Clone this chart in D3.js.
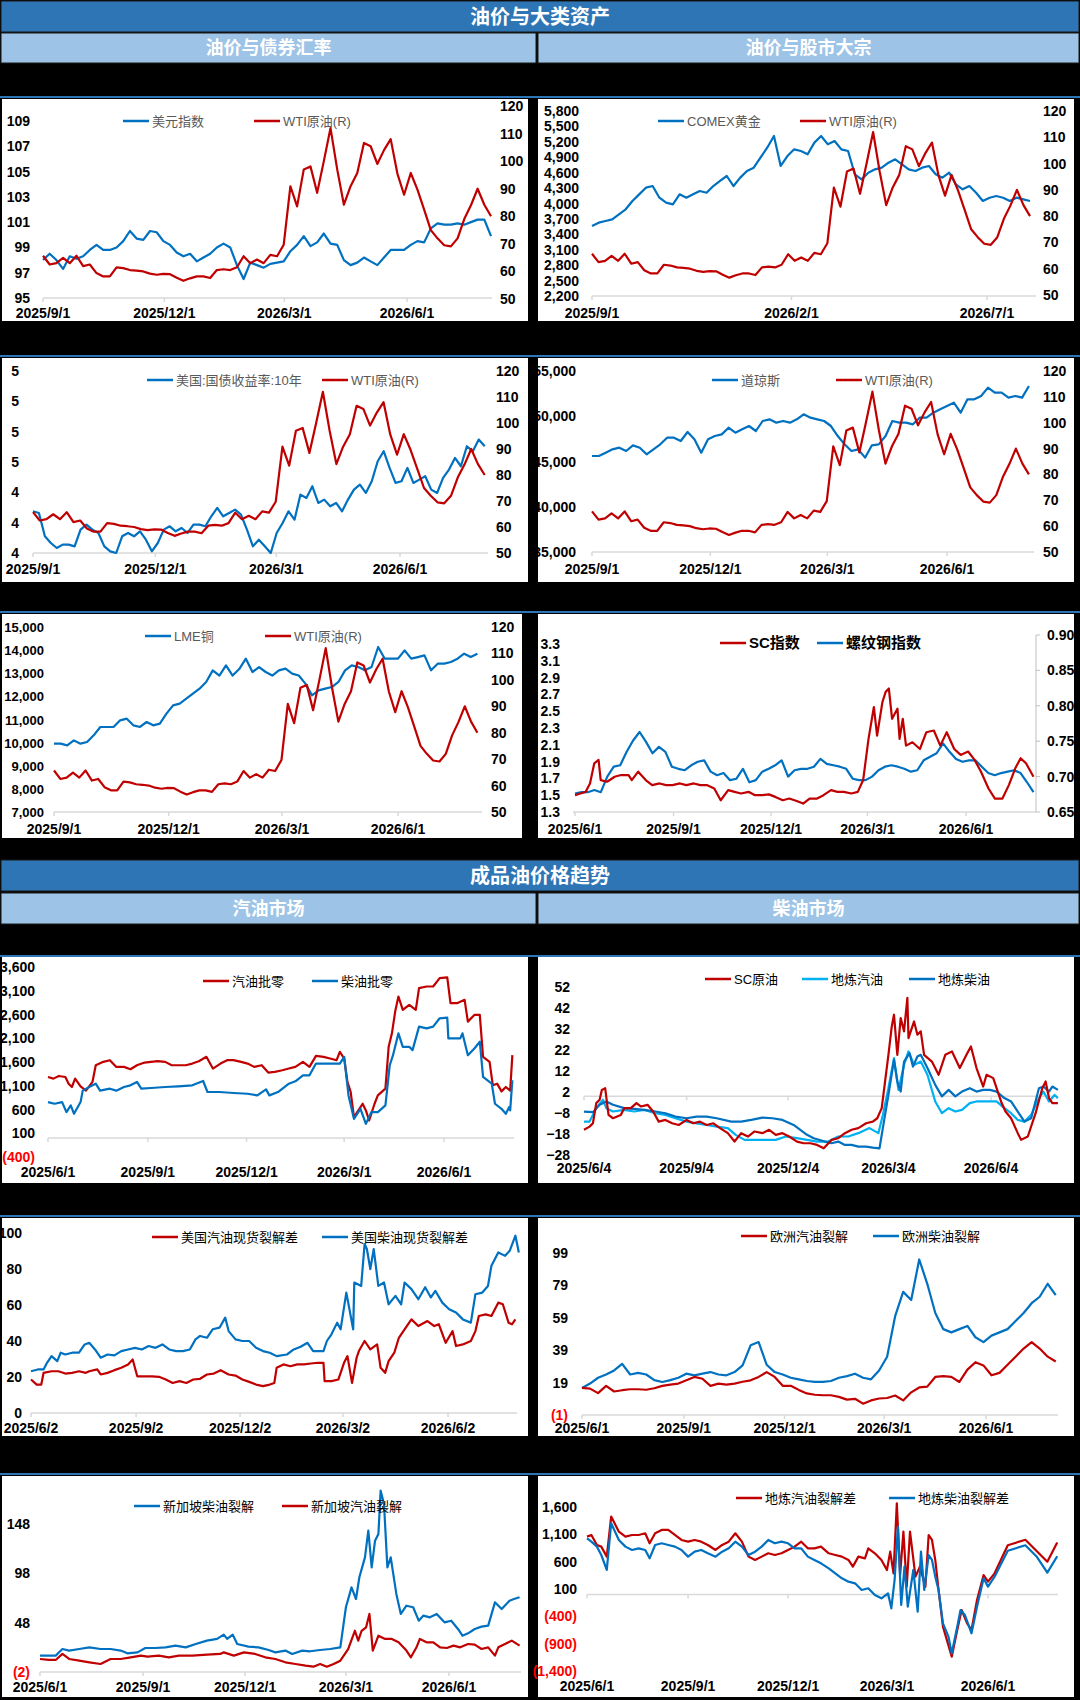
<!DOCTYPE html>
<html><head><meta charset="utf-8">
<script src="https://cdn.jsdelivr.net/npm/d3@7"></script>
<style>body{margin:0;background:#000}svg{display:block}text{font-family:"Liberation Sans Narrow","Liberation Sans","Noto Sans CJK SC",sans-serif}</style>
</head><body>
<script>
// ===================== data =====================
const wti = [65.7,62.5,63,64.9,63,65.7,61.9,62.5,59.4,58.2,58.2,61.5,61.2,60.5,60.3,60,59.2,58.8,59.1,59,57.7,56.6,57.5,58.2,58.2,57.6,60.5,60.8,60.5,61.5,65.5,63,64.3,63,66,65.5,69.7,90.9,83.6,97,98.1,88.5,100,112,97,84.2,90.9,95.7,106.6,105.4,99,104,108,95.5,87.8,95.7,89.7,82.4,75,72,69.5,69.1,72,79,84,90,84.2,80];
const usd = [98.0,98.5,98.0,97.3,98.3,98.1,98.3,98.8,99.2,98.8,98.8,99.0,99.5,100.3,99.7,99.6,100.3,100.2,99.5,99.2,98.6,98.3,98.5,97.9,98.2,98.5,99.0,99.3,99.0,97.6,96.5,97.8,97.6,97.4,97.7,97.8,97.9,98.7,99.2,99.9,99.1,99.4,100.1,99.3,99.2,98.0,97.6,97.8,98.2,97.9,97.6,98.2,98.8,98.8,98.8,99.2,99.5,99.4,100.5,100.9,100.8,100.8,100.9,100.8,101.0,101.2,101.2,99.9];
const gold = [3562,3627,3660,3692,3789,3887,4049,4178,4308,4340,4113,4016,3984,4178,4113,4178,4243,4210,4340,4438,4535,4340,4503,4632,4697,4892,5086,5313,4730,4924,5054,5021,4957,5184,5313,5151,5216,5054,5021,4568,4470,4600,4665,4697,4795,4859,4762,4665,4632,4697,4730,4568,4503,4600,4373,4276,4340,4210,4049,4113,4146,4113,4049,4113,4081,4049];
const ust10 = [4.175,4.164,4.01,3.966,3.933,3.955,3.955,3.944,4.054,4.087,4.054,4.032,3.944,3.911,3.9,4.01,4.032,4.01,4.043,3.988,3.911,3.966,4.054,4.076,4.043,4.065,4.032,4.087,4.087,4.076,4.142,4.197,4.142,4.164,4.186,4.153,4.054,3.944,3.988,3.944,3.9,4.032,4.098,4.175,4.12,4.285,4.263,4.34,4.23,4.252,4.208,4.23,4.175,4.252,4.318,4.351,4.296,4.373,4.505,4.571,4.461,4.362,4.373,4.461,4.362,4.384,4.406,4.318,4.296,4.395,4.45,4.527,4.472,4.604,4.571,4.648,4.604];
const dow = [45608,45608,45976,46344,46528,46160,46786,46528,45792,46344,46897,47633,47633,47265,48260,47449,45976,47449,47817,48001,48738,48186,48554,48922,48370,49475,49659,49291,49475,49291,49659,50212,49843,49659,49475,48922,47817,46897,46160,46344,45424,46786,46897,47817,49475,49291,49291,49107,49843,49843,50396,50764,51133,51501,50396,51869,51869,52238,53158,52606,52606,52054,52238,52054,53342];
const copper = [9954,9954,9882,10098,9954,10026,10315,10676,10676,10676,10964,11036,10748,10676,10892,10748,10820,11252,11613,11685,11901,12117,12333,12622,13126,12900,13342,12900,13180,13630,13054,13270,13054,12900,13126,13198,12982,12900,12550,12045,12261,12333,12405,12622,13126,13342,13270,13126,13270,14135,13630,13630,13630,13990,13630,13700,13775,13126,13414,13414,13486,13630,13847,13700,13847];
const scIndex = [1.5,1.52,1.54,1.64,1.88,1.92,1.68,1.66,1.72,1.74,1.74,1.68,1.78,1.68,1.62,1.64,1.62,1.62,1.64,1.62,1.64,1.62,1.62,1.58,1.44,1.56,1.54,1.52,1.54,1.5,1.5,1.51,1.48,1.44,1.46,1.43,1.4,1.46,1.46,1.5,1.56,1.54,1.54,1.52,1.54,1.68,2.17,2.55,2.21,2.61,2.73,2.77,2.41,2.53,2.17,2.41,2.09,2.13,2.05,2.25,2.27,2.09,2.25,2.05,1.98,2.02,1.92,1.78,1.58,1.46,1.46,1.62,1.82,1.94,1.88,1.72];
const scIndexDays = [0,5,10,14,18,22,24,30,37,43,50,53,59,66,72,79,85,91,98,104,111,117,123,130,136,143,149,155,162,168,175,181,187,194,200,207,213,219,226,232,239,245,251,258,264,269,274,279,282,287,290,293,296,301,303,306,309,315,322,328,335,341,347,354,360,367,373,379,386,392,399,405,411,416,421,428];
const rebarIndex = [0.676,0.678,0.678,0.681,0.678,0.7,0.714,0.716,0.735,0.751,0.763,0.749,0.733,0.742,0.735,0.714,0.711,0.709,0.716,0.721,0.723,0.707,0.702,0.705,0.695,0.697,0.711,0.692,0.695,0.707,0.711,0.716,0.723,0.7,0.709,0.711,0.711,0.714,0.725,0.718,0.716,0.714,0.711,0.697,0.695,0.695,0.7,0.709,0.714,0.716,0.714,0.711,0.707,0.709,0.723,0.728,0.733,0.747,0.735,0.725,0.721,0.723,0.723,0.714,0.705,0.702,0.705,0.707,0.709,0.705,0.692,0.678];
const gasWholesale = [1285,1250,1306,1285,1144,1074,1250,1088,997,1180,1532,1603,1638,1497,1497,1448,1532,1588,1603,1617,1603,1532,1532,1532,1567,1617,1709,1462,1567,1638,1638,1603,1567,1497,1532,1377,1391,1426,1462,1497,1603,1497,1730,1709,1674,1638,1815,1674,1180,968,439,615,721,580,368,721,897,1038,1920,2203,2661,2979,2697,2803,2697,3155,3190,3190,3367,3381,2838,2838,2909,2450,2591,2591,1709,1603,1109,1144,982,1074,997,1744];
const gasWholesaleDays = [0,5,10,16,19,22,25,30,35,41,44,51,57,63,70,76,82,89,95,101,108,114,120,127,133,139,146,152,159,165,171,178,184,190,197,203,209,216,222,228,235,241,247,254,260,266,269,273,276,279,282,287,290,293,296,301,304,311,314,317,320,323,327,333,339,342,349,355,361,368,371,377,384,387,393,398,401,407,410,414,418,422,426,428];
const dieselWholesale = [756,721,756,545,686,509,756,997,1109,1144,997,1038,997,1074,1109,1180,1038,1053,1074,1088,1109,1200,968,968,947,932,897,1024,897,968,1144,1194,1320,1320,1567,1567,1567,1709,897,403,615,298,545,545,686,1532,1744,2203,1920,1920,1850,2344,2309,2344,2520,2534,2097,2097,2203,1744,1885,2027,1285,1144,721,615,509,650,580,1215];
const dieselWholesaleDays = [0,6,13,17,21,24,30,32,41,44,48,57,63,70,76,82,86,95,108,120,133,143,147,158,171,184,193,201,204,212,222,228,235,241,247,260,269,273,277,282,288,293,298,304,311,315,318,323,327,333,336,342,349,355,361,368,369,380,382,387,393,398,401,409,412,418,422,425,426,428];
const scCrude = [-16,-14.5,-12.9,-3.3,-1.7,3,3.8,-8.9,-10.5,-8.9,-5.7,-5.7,-3.3,-4.9,-4.1,-7.3,-12.1,-11.3,-12.9,-13.7,-11.3,-12.9,-12.1,-13.7,-12.9,-15.2,-17.6,-21.6,-17.6,-19.2,-16.8,-17.6,-16,-18.4,-17.6,-19.2,-21.6,-22.4,-22.4,-23.2,-24.8,-20.8,-20,-17.6,-16,-15.2,-12.9,-12.1,-10.5,-5.7,7,19.7,33.2,38.8,19.7,37.2,30.9,46.8,27.7,35.6,29.3,30.9,19.7,16.5,10.2,19.7,21.3,13.4,19.7,23.7,13.4,4.6,10.2,8.6,-2.5,-7.3,-10.5,-17.6,-20.8,-19.2,-8.1,3.8,7,-0.9,-3.3,-3.3];
const scCrudeDays = [0,5,8,11,14,16,19,22,26,33,36,42,47,51,57,62,67,73,79,85,92,98,104,110,116,122,129,135,141,147,153,160,166,172,178,184,191,197,203,209,215,222,228,234,240,246,253,259,263,267,270,273,276,278,281,284,287,290,291,296,299,302,305,312,318,324,330,337,343,347,352,358,361,367,374,378,383,389,392,398,405,411,414,417,420,425];
const localGasoline = [-12.1,-12.1,-5.7,-1.7,-5.7,-7.3,-6.5,-7.3,-6.5,-8.1,-8.9,-10.5,-12.1,-12.9,-13.7,-14.5,-15.2,-18.4,-20.8,-20.8,-20.8,-20.8,-19.2,-20,-20.8,-21.6,-21.6,-19.2,-19.2,-17.6,-15.2,-17.6,-8.9,3.8,18.1,3,14.9,21.3,14.9,16.5,10.2,-2.5,-8.1,-5.7,-7.3,-6.5,-3.3,-2.5,-2.5,-2.5,-2.5,-5.7,-8.1,-11.3,-12.1,-8.9,-0.9,2.2,-2.5,0.6,-0.9];
const localGasolineDays = [0,5,11,17,20,26,36,45,54,64,73,82,92,101,110,119,129,136,144,153,163,172,181,191,200,209,219,228,237,246,256,264,268,273,278,282,287,291,296,302,308,315,321,327,333,339,346,352,358,364,370,377,383,389,395,401,408,412,417,422,425];
const localDiesel = [-7.3,-7.6,-4.1,-2.5,-4.1,-5.7,-6,-6.5,-7.3,-8.1,-9.7,-10.5,-9.7,-9.7,-10.5,-12.1,-12.1,-11.3,-10.2,-10.5,-11.3,-13.7,-16,-18.4,-20,-21.6,-22.4,-21.6,-23.2,-23.2,-24,-24,-24.5,-24.8,-15.2,0.6,17.3,7,2.2,16.5,20.5,14.1,18.9,19.7,13.4,5.4,-0.1,3,-0.1,2.2,3.8,2.2,3,3,2.2,-0.9,-2.5,-7.3,-12.1,-10.5,3.8,4.6,2.2,4.6,3];
const localDieselDays = [0,8,14,20,26,36,45,54,64,73,82,92,101,110,119,132,141,150,160,169,178,188,194,200,206,216,222,228,234,240,246,253,259,265,268,273,278,281,284,287,292,295,299,302,308,315,321,327,333,339,346,352,358,364,370,377,383,389,395,401,408,412,417,420,425];
const usGasCrack = [18.6,15.8,15.8,22.3,23.2,23.2,21.9,22.3,23.2,22.3,23.2,24.2,21.4,22.3,23.8,25.1,27,29.7,20.4,20.4,20.4,20.1,18.6,16.7,17.7,16.7,18.6,19,21.4,21.9,23.8,21.4,20.8,18.6,17.3,15.8,14.9,15.8,16.7,25.1,27,26,27,27,27.5,27.9,27.9,17.7,17.7,18.6,27.9,31.6,16.7,30.7,34.4,40,35.3,38.1,25.1,22.3,28.8,33.5,41.8,46.5,52,48.3,51.1,48.3,49.3,39,45.5,37.2,38.1,40,45.5,53.9,54.8,53.9,61.3,60.4,50.2,49.3,52];
const usGasCrackDays = [0,5,9,11,18,24,30,36,42,48,51,58,61,67,73,79,85,89,93,100,106,112,118,124,130,136,142,148,154,160,166,173,179,185,191,197,203,209,213,215,221,227,233,239,245,251,256,257,263,269,274,277,281,285,287,292,297,303,306,310,313,318,322,327,333,339,347,353,357,363,369,372,378,385,389,392,398,403,409,413,418,421,424];
const usDieselCrack = [23.2,24.2,24.2,27.9,31.6,28.8,33.5,32.5,33.5,33.5,38.1,39,35.3,30.7,32.5,32,34.4,35.3,36.2,35.3,37.2,36.2,38.1,35.3,34.4,34.4,35.3,40.9,42.8,41.8,46.5,47.4,53,45.5,40.9,40,40,36.2,34.4,33.5,31.6,32.5,35.3,36.8,39,34.4,34.4,40,43.7,50.2,46.5,66.9,46.5,72.5,70.6,93.9,91.1,79.9,91.1,70.6,72.5,60.4,65.1,60.4,72.5,68.8,63.2,69.9,64.2,67.8,61.3,57.6,55.8,52,50.2,66,66.9,70.6,81.8,89.2,87.3,90.1,98.5,89.2];
const usDieselCrackDays = [0,6,11,14,18,23,26,30,36,42,47,51,56,61,67,73,79,85,91,97,103,109,115,121,127,133,139,144,148,154,159,165,170,173,179,185,191,197,203,209,215,224,230,236,242,247,256,259,263,268,271,276,282,283,289,292,294,297,300,304,309,313,319,324,327,333,339,345,350,354,360,366,372,378,385,389,395,400,403,409,415,419,424,427];
const euGasCrack = [15.7,15.3,12.5,17,13.5,14.3,14.9,14.9,14.6,15.5,17,17.8,18.4,20.4,22.5,21.4,17,18.4,17.8,18.4,19.5,20.4,22.5,25.5,22.5,17,17,14.5,12.3,11.5,11.2,11.2,10.2,8.5,9,6,8,9.2,9.5,11,8,13,16,16.5,22.5,23,22.5,19.4,27,31.6,29.6,23.5,25,30,35,40,44,40,35,32];
const euDieselCrack = [15.7,18.4,22,24,26.5,30.6,24,25,24,20.5,19.4,20.5,22,24.5,23.5,24.5,25.5,24,23.5,25.5,29.6,42,44,30,25.5,24,22,21,20,19.4,19.4,20,22,23,24.5,22,21,26.5,35,60,75,70,95,80,62,52,50,52,54,47,44,48,50,52,57,62,68,72,80,73];
const sgDieselCrack = [14.6,14.6,14.6,21.3,19.7,21.3,23,21.3,21.3,19.7,16.9,17.9,22.3,22.3,23,24.7,23,26.4,29.8,31.5,35.9,31.5,35.9,26.4,23.7,23,20.3,17.9,19.7,16.3,19.7,19,20.3,21.3,23,63.6,83.8,72,94,114.2,141.2,104,131.1,137.9,181.8,168.3,104,114.2,77.1,56.8,65.2,63.6,50,55.1,53.4,56.8,48.3,50,41.6,34.8,37.2,41.6,44,45,68.6,61.8,70.3,72,73.7];
const sgDieselCrackDays = [0,8,14,20,26,35,44,54,63,72,78,87,94,103,112,121,130,139,149,158,164,167,172,176,186,195,204,210,219,225,234,241,250,259,268,273,278,282,285,290,293,296,299,302,304,307,310,313,318,322,327,333,338,342,348,354,361,367,373,377,382,388,394,400,406,412,419,423,428];
const sgGasCrack = [11.2,10.2,10.2,16.3,11.2,9.5,7.8,6.1,11.2,11.2,12.9,14.6,13.6,14.6,12.9,14.6,14.6,15.6,16.3,17.9,14.6,17.9,16.3,12.9,11.2,7.8,6.1,4.4,3.4,6.1,3.4,6.1,9.5,21.3,39.8,29.8,39.8,43.3,56.8,19.7,34.8,31.5,31.5,28.1,19.7,12.9,23,31.5,28.1,28.1,23,22.3,24.7,23,26.4,25.7,21.3,23,14.6,23,26.4,29.8,24.7];
const sgGasCrackDays = [0,8,14,20,26,35,44,54,63,72,81,90,96,106,115,124,136,149,161,164,173,182,192,201,210,219,228,237,244,250,256,262,268,275,281,284,287,291,294,297,302,308,314,320,327,331,336,339,345,351,357,363,369,375,382,388,394,400,406,409,415,421,428];
const localGasCrack = [1058,1088,905,875,692,1424,1149,1058,1088,1088,1119,936,1119,1180,1180,1088,997,966,997,966,905,814,905,966,1119,966,692,631,692,753,722,753,814,875,966,844,844,875,753,722,692,631,509,692,661,844,753,631,448,783,387,1668,356,1149,143,1149,326,509,143,1088,997,631,82,-589,-1138,-650,-284,-528,-650,-101,356,234,387,900,1000,800,600,950];
const localGasCrackDays = [0,4,9,13,18,22,29,35,41,47,53,57,62,68,74,80,86,92,98,104,110,117,123,129,135,141,147,153,159,165,171,177,183,189,195,201,207,213,220,226,232,238,242,247,253,256,262,268,273,276,279,282,285,288,291,294,299,303,308,311,314,317,320,324,332,337,341,346,350,355,361,365,371,383,399,409,419,428];
const localDieselCrack = [1027,966,875,722,448,1302,997,875,814,844,814,661,905,936,905,875,814,692,783,814,753,692,783,844,966,875,722,783,875,997,936,966,936,844,844,692,631,570,478,387,295,234,204,82,113,-10,-71,21,-254,265,1241,-193,509,-223,448,-315,783,82,722,631,326,82,-528,-772,-1077,-589,-284,-376,-711,-223,295,143,326,800,900,700,400,700];
const localDieselCrackDays = [0,4,9,13,18,22,29,35,41,47,53,57,62,68,74,80,86,92,98,104,110,117,123,129,135,141,147,153,159,165,171,177,183,189,195,201,207,213,220,226,232,238,244,250,256,262,268,274,277,280,283,286,289,292,297,301,304,307,311,314,317,320,324,329,332,337,340,344,350,355,361,365,371,383,399,409,419,428];

const xTicksSep = ['2025/9/1', '2025/12/1', '2026/3/1', '2026/6/1'];
const xTicksGold = ['2025/9/1', '2026/2/1', '2026/7/1'];
const xTicksJun1 = ['2025/6/1', '2025/9/1', '2025/12/1', '2026/3/1', '2026/6/1'];
const xTicksJun4 = ['2025/6/4', '2025/9/4', '2025/12/4', '2026/3/4', '2026/6/4'];
const xTicksJun2 = ['2025/6/2', '2025/9/2', '2025/12/2', '2026/3/2', '2026/6/2'];
const ust10TickLabels = ['4', '4', '4', '5', '5', '5', '5'];

// ===================== helpers =====================
const RED = '#C00000', BLUE = '#0070C0', LBLUE = '#00B0F0';
const DAY = 86400000;
const parseTick = d3.timeParse('%Y/%m/%d');
const parseDay = d3.timeParse('%Y-%m-%d');
const fmtComma = d3.format(',');
const fmtAcct = function (v) { return v < 0 ? '(' + fmtComma(-v) + ')' : fmtComma(v); };

const svg = d3.select('body').append('svg').attr('width', 1080).attr('height', 1700);
svg.append('rect').attr('width', 1080).attr('height', 1700).attr('fill', '#000');

function header(y, h, fill, text, x0, x1, size) {
  svg.append('rect').attr('x', x0).attr('y', y).attr('width', x1 - x0).attr('height', h)
    .attr('fill', fill).attr('stroke', '#1a1a1a').attr('stroke-width', 1);
  svg.append('text').attr('x', (x0 + x1) / 2).attr('y', y + h / 2 + size * 0.36)
    .attr('text-anchor', 'middle').attr('fill', '#fff').attr('font-size', size)
    .attr('font-weight', 'bold').style('font-family', '"Noto Sans CJK SC",sans-serif').text(text);
}

function ticksBetween(a, b, step) {
  const out = [];
  for (let v = a; v <= b + 1e-9; v += step) out.push(+v.toFixed(4));
  return out;
}

function drawChart(c) {
  const g = svg.append('g');
  g.append('rect').attr('x', c.panel[0]).attr('y', c.panel[1]).attr('width', c.panel[2]).attr('height', c.panel[3])
    .attr('fill', '#fff');

  const x = d3.scaleTime()
    .domain([parseTick(c.xTicks[0]), parseTick(c.xTicks[c.xTicks.length - 1])])
    .range(c.xTickPx);
  const yL = d3.scaleLinear().domain(c.left.domain).range(c.left.range);
  const yR = c.right ? d3.scaleLinear().domain(c.right.domain).range(c.right.range) : null;

  // base axis
  const axisY = yL(c.axisAt);
  g.append('line').attr('x1', c.axisX[0]).attr('x2', c.axisX[1]).attr('y1', axisY).attr('y2', axisY)
    .attr('stroke', '#d9d9d9').attr('stroke-width', 1.5);
  c.xTicks.forEach(function (t) {
    const px = x(parseTick(t));
    g.append('line').attr('x1', px).attr('x2', px).attr('y1', axisY).attr('y2', axisY + 4)
      .attr('stroke', '#d9d9d9').attr('stroke-width', 1.5);
    g.append('text').attr('x', px).attr('y', c.xLabelY).attr('text-anchor', 'middle')
      .attr('font-size', 14).attr('font-weight', 'bold').attr('fill', '#000').text(t);
  });

  // left ticks
  c.left.ticks.forEach(function (v, i) {
    const label = c.left.labels ? c.left.labels[i] : (c.left.fmt || fmtAcct)(v);
    g.append('text').attr('x', c.left.x).attr('y', yL(v) + 5).attr('text-anchor', 'end')
      .attr('font-size', c.left.size || 14).attr('font-weight', 'bold')
      .attr('fill', v < 0 && c.left.redNeg ? '#FF0000' : '#000').text(label);
  });
  if (c.right) {
    if (c.right.axisLine) {
      g.append('line').attr('x1', c.right.axisLine).attr('x2', c.right.axisLine)
        .attr('y1', c.right.range[0]).attr('y2', c.right.range[1]).attr('stroke', '#bfbfbf');
      c.right.ticks.forEach(function (v) {
        g.append('line').attr('x1', c.right.axisLine).attr('x2', c.right.axisLine + 4)
          .attr('y1', yR(v)).attr('y2', yR(v)).attr('stroke', '#bfbfbf');
      });
    }
    c.right.ticks.forEach(function (v) {
      g.append('text').attr('x', c.right.x).attr('y', yR(v) + 5)
        .attr('font-size', c.right.size || 14).attr('font-weight', 'bold').attr('fill', '#000')
        .text((c.right.fmt || fmtAcct)(v));
    });
  }

  // series: explicit day offsets when read unevenly, otherwise evenly spaced
  const d0 = parseDay(c.start), d1 = parseDay(c.end);
  c.series.forEach(function (s) {
    const y = s.axis === 'right' ? yR : yL;
    const n = s.values.length;
    const pts = s.values.map(function (v, i) {
      const t = s.days ? new Date(+d0 + s.days[i] * DAY) : new Date(+d0 + (d1 - d0) * i / (n - 1));
      return { t: t, v: v };
    });
    g.append('path').datum(pts)
      .attr('d', d3.line().x(function (d) { return x(d.t); }).y(function (d) { return y(d.v); }))
      .attr('fill', 'none').attr('stroke', s.color).attr('stroke-width', 2.2)
      .attr('stroke-linejoin', 'round');
  });

  // legend
  c.legend.forEach(function (l) {
    g.append('line').attr('x1', l.x).attr('x2', l.x + 26).attr('y1', c.legendY).attr('y2', c.legendY)
      .attr('stroke', l.color).attr('stroke-width', 2.5);
    g.append('text').attr('x', l.x + 29).attr('y', c.legendY + 5)
      .attr('font-size', c.legendSize || 13).attr('fill', c.legendColor || '#595959')
      .attr('font-weight', c.legendBold ? 'bold' : 'normal')
      .style('font-family', '"Liberation Sans","Noto Sans CJK SC",sans-serif').text(l.text);
  });
}

// ===================== headers =====================
header(1, 31, '#2E75B6', '油价与大类资产', 1, 1079, 20);
header(33, 30, '#9DC3E6', '油价与债券汇率', 1, 536, 18);
header(33, 30, '#9DC3E6', '油价与股市大宗', 538, 1079, 18);
header(860, 31, '#2E75B6', '成品油价格趋势', 1, 1079, 20);
header(893, 31, '#9DC3E6', '汽油市场', 1, 536, 18);
header(893, 31, '#9DC3E6', '柴油市场', 538, 1079, 18);
[96, 355, 611, 955, 1215, 1473].forEach(function (y) {
  svg.append('rect').attr('x', 0).attr('y', y).attr('width', 1080).attr('height', 2).attr('fill', '#2E75B6');
});

const S = '2025-09-01', J = '2025-06-01', E = '2026-08-03';
const wtiRight = function (range) { return { domain: [50, 120], range: range, ticks: ticksBetween(50, 120, 10) }; };

// row 1
drawChart({ panel: [2, 99, 526, 222], xTicks: xTicksSep, xTickPx: [43, 407], axisX: [43, 492], axisAt: 95, xLabelY: 318,
  start: S, end: E,
  left: { domain: [95, 109], range: [298, 121], ticks: ticksBetween(95, 109, 2), x: 30 },
  right: Object.assign(wtiRight([299, 106]), { x: 500 }),
  series: [{ values: usd, color: BLUE }, { values: wti, color: RED, axis: 'right' }],
  legendY: 121, legend: [{ x: 123, color: BLUE, text: '美元指数' }, { x: 254, color: RED, text: 'WTI原油(R)' }] });

drawChart({ panel: [538, 99, 536, 222], xTicks: xTicksGold, xTickPx: [592, 987], axisX: [592, 1036], axisAt: 2200, xLabelY: 318,
  start: S, end: E,
  left: { domain: [2200, 5800], range: [296, 111], ticks: ticksBetween(2200, 5800, 300), x: 579 },
  right: Object.assign(wtiRight([295, 111]), { x: 1043 }),
  series: [{ values: gold, color: BLUE }, { values: wti, color: RED, axis: 'right' }],
  legendY: 121, legend: [{ x: 658, color: BLUE, text: 'COMEX黄金' }, { x: 800, color: RED, text: 'WTI原油(R)' }] });

// row 2
drawChart({ panel: [2, 358, 526, 224], xTicks: xTicksSep, xTickPx: [33, 400], axisX: [33, 488], axisAt: 3.9, xLabelY: 574,
  start: S, end: E,
  left: { domain: [3.9, 5.1], range: [553, 371], ticks: ticksBetween(3.9, 5.1, 0.2), labels: ust10TickLabels, x: 19 },
  right: Object.assign(wtiRight([553, 371]), { x: 496 }),
  series: [{ values: ust10, color: BLUE }, { values: wti, color: RED, axis: 'right' }],
  legendY: 380, legend: [{ x: 147, color: BLUE, text: '美国:国债收益率:10年' }, { x: 322, color: RED, text: 'WTI原油(R)' }] });

drawChart({ panel: [538, 358, 536, 224], xTicks: xTicksSep, xTickPx: [592, 947], axisX: [592, 1034], axisAt: 35000, xLabelY: 574,
  start: S, end: E,
  left: { domain: [35000, 55000], range: [552, 371], ticks: ticksBetween(35000, 55000, 5000), x: 576 },
  right: Object.assign(wtiRight([552, 371]), { x: 1043 }),
  series: [{ values: dow, color: BLUE }, { values: wti, color: RED, axis: 'right' }],
  legendY: 380, legend: [{ x: 712, color: BLUE, text: '道琼斯' }, { x: 836, color: RED, text: 'WTI原油(R)' }] });

// row 3
drawChart({ panel: [2, 614, 520, 224], xTicks: xTicksSep, xTickPx: [54, 398], axisX: [54, 482], axisAt: 7000, xLabelY: 834,
  start: S, end: E,
  left: { domain: [7000, 15000], range: [812, 627], ticks: ticksBetween(7000, 15000, 1000), x: 44, size: 13 },
  right: Object.assign(wtiRight([812, 627]), { x: 491 }),
  series: [{ values: copper, color: BLUE }, { values: wti, color: RED, axis: 'right' }],
  legendY: 636, legend: [{ x: 145, color: BLUE, text: 'LME铜' }, { x: 265, color: RED, text: 'WTI原油(R)' }] });

drawChart({ panel: [538, 614, 536, 224], xTicks: xTicksJun1, xTickPx: [575, 966], axisX: [573, 1036], axisAt: 1.3, xLabelY: 834,
  start: J, end: E,
  left: { domain: [1.3, 3.3], range: [812, 644], ticks: ticksBetween(1.3, 3.3, 0.2), fmt: d3.format('.1f'), x: 560 },
  right: { domain: [0.65, 0.9], range: [812, 635], ticks: ticksBetween(0.65, 0.9, 0.05), fmt: d3.format('.2f'), x: 1047, axisLine: 1036 },
  series: [{ values: rebarIndex, color: BLUE, axis: 'right' }, { values: scIndex, days: scIndexDays, color: RED }],
  legendY: 643, legendColor: '#000', legendBold: true, legendSize: 15,
  legend: [{ x: 720, color: RED, text: 'SC指数' }, { x: 817, color: BLUE, text: '螺纹钢指数' }] });

// row 4
drawChart({ panel: [2, 957, 526, 226], xTicks: xTicksJun1, xTickPx: [48, 444], axisX: [48, 514], axisAt: 0, xLabelY: 1177,
  start: J, end: E,
  left: { domain: [-400, 3600], range: [1157, 967], ticks: ticksBetween(-400, 3600, 500), x: 35, redNeg: true },
  series: [{ values: gasWholesale, days: gasWholesaleDays, color: RED }, { values: dieselWholesale, days: dieselWholesaleDays, color: BLUE }],
  legendY: 981, legendColor: '#000',
  legend: [{ x: 203, color: RED, text: '汽油批零' }, { x: 312, color: BLUE, text: '柴油批零' }] });

drawChart({ panel: [538, 957, 536, 226], xTicks: xTicksJun4, xTickPx: [584, 991], axisX: [584, 1058], axisAt: 0, xLabelY: 1173,
  start: '2025-06-04', end: E,
  left: { domain: [-28, 52], range: [1155, 987], ticks: ticksBetween(-28, 52, 10), fmt: d3.format('d'), x: 570 },
  series: [{ values: localGasoline, days: localGasolineDays, color: LBLUE },
    { values: localDiesel, days: localDieselDays, color: BLUE },
    { values: scCrude, days: scCrudeDays, color: RED }],
  legendY: 979, legendColor: '#000',
  legend: [{ x: 705, color: RED, text: 'SC原油' }, { x: 802, color: LBLUE, text: '地炼汽油' }, { x: 909, color: BLUE, text: '地炼柴油' }] });

// row 5
drawChart({ panel: [2, 1218, 526, 218], xTicks: xTicksJun2, xTickPx: [31, 448], axisX: [31, 517], axisAt: 0, xLabelY: 1433,
  start: '2025-06-02', end: E,
  left: { domain: [0, 100], range: [1413, 1233], ticks: ticksBetween(0, 100, 20), x: 22 },
  series: [{ values: usDieselCrack, days: usDieselCrackDays, color: BLUE }, { values: usGasCrack, days: usGasCrackDays, color: RED }],
  legendY: 1237, legendColor: '#000',
  legend: [{ x: 152, color: RED, text: '美国汽油现货裂解差' }, { x: 322, color: BLUE, text: '美国柴油现货裂解差' }] });

drawChart({ panel: [538, 1218, 536, 218], xTicks: xTicksJun1, xTickPx: [582, 986], axisX: [582, 1058], axisAt: -1, xLabelY: 1433,
  start: J, end: E,
  left: { domain: [-1, 99], range: [1415, 1253], ticks: ticksBetween(-1, 99, 20), x: 568, redNeg: true },
  series: [{ values: euDieselCrack, color: BLUE }, { values: euGasCrack, color: RED }],
  legendY: 1236, legendColor: '#000',
  legend: [{ x: 741, color: RED, text: '欧洲汽油裂解' }, { x: 873, color: BLUE, text: '欧洲柴油裂解' }] });

// row 6
drawChart({ panel: [2, 1476, 526, 221], xTicks: xTicksJun1, xTickPx: [40, 449], axisX: [40, 521], axisAt: -2, xLabelY: 1692,
  start: J, end: E,
  left: { domain: [-2, 148], range: [1672, 1524], ticks: ticksBetween(-2, 148, 50), x: 30, redNeg: true },
  series: [{ values: sgDieselCrack, days: sgDieselCrackDays, color: BLUE }, { values: sgGasCrack, days: sgGasCrackDays, color: RED }],
  legendY: 1506, legendColor: '#000',
  legend: [{ x: 134, color: BLUE, text: '新加坡柴油裂解' }, { x: 282, color: RED, text: '新加坡汽油裂解' }] });

drawChart({ panel: [538, 1476, 536, 221], xTicks: xTicksJun1, xTickPx: [587, 988], axisX: [587, 1058], axisAt: 0, xLabelY: 1691,
  start: J, end: E,
  left: { domain: [-1400, 1600], range: [1671, 1507], ticks: ticksBetween(-1400, 1600, 500), x: 577, redNeg: true },
  series: [{ values: localGasCrack, days: localGasCrackDays, color: RED }, { values: localDieselCrack, days: localDieselCrackDays, color: BLUE }],
  legendY: 1498, legendColor: '#000',
  legend: [{ x: 736, color: RED, text: '地炼汽油裂解差' }, { x: 889, color: BLUE, text: '地炼柴油裂解差' }] });
</script>
</body></html>
